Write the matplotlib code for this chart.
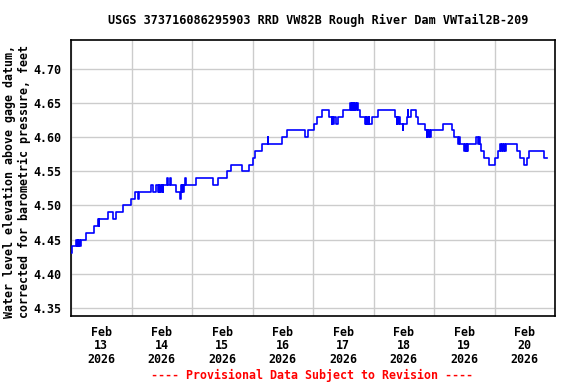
import numpy as np
import pandas as pd
import matplotlib
matplotlib.use("Agg")
import matplotlib.pyplot as plt
import matplotlib.dates as mdates
from matplotlib.ticker import MultipleLocator, FixedLocator

# gage readings, hours after 2026-02-13 00:00 and water level (ft)
hours = [0.0, 0.5, 2.0, 2.3, 2.6, 2.9, 3.2, 3.5, 3.8, 5.95, 9.0, 10.7, 11.0, 11.3,
         14.8, 16.7, 18.0, 20.6, 23.9, 25.3, 26.6, 27.0, 31.9, 32.6, 33.7, 34.5,
         34.8, 35.1, 35.4, 35.7, 36.0, 36.3, 36.5, 38.1, 38.5, 39.4, 39.8, 41.8,
         43.1, 43.5, 43.6, 43.9, 44.2, 44.5, 44.8, 45.3, 45.6, 49.5, 56.3, 58.2,
         61.9, 63.6, 68.0, 70.7, 72.1, 73.1, 75.6, 78.0, 78.3, 83.6, 85.8, 92.8,
         94.1, 96.3, 97.5, 99.5, 102.3, 103.4, 103.7, 104.0, 104.3, 105.1, 106.0,
         108.0, 110.7, 111.0, 111.3, 111.6, 112.1, 112.4, 112.7, 113.0, 113.3,
         113.7, 114.6, 116.6, 116.9, 117.2, 117.5, 117.8, 118.1, 118.4, 119.4,
         121.9, 128.5, 129.2, 129.5, 129.8, 130.1, 130.4, 131.6, 131.9, 133.2,
         133.5, 133.8, 134.9, 136.9, 137.8, 140.4, 141.1, 141.4, 141.7, 142.0,
         142.3, 142.7, 147.4, 151.0, 151.9, 153.6, 153.9, 154.2, 156.0, 156.3,
         156.6, 156.9, 157.2, 157.5, 160.5, 161.5, 161.8, 162.1, 162.6, 163.9,
         165.9, 168.2, 169.5, 170.2, 170.5, 170.8, 171.4, 171.7, 172.3, 172.6,
         177.0, 178.1, 179.8, 180.8, 181.8, 187.6, 188.7]
levels = [4.43, 4.44, 4.45, 4.44, 4.45, 4.44, 4.45, 4.44, 4.45, 4.46, 4.47, 4.48, 4.47, 4.48,
          4.49, 4.48, 4.49, 4.50, 4.51, 4.52, 4.51, 4.52, 4.53, 4.52, 4.53, 4.52,
          4.53, 4.52, 4.53, 4.52, 4.53, 4.52, 4.53, 4.54, 4.53, 4.54, 4.53, 4.52,
          4.51, 4.52, 4.53, 4.52, 4.53, 4.52, 4.53, 4.54, 4.53, 4.54, 4.53, 4.54,
          4.55, 4.56, 4.55, 4.56, 4.57, 4.58, 4.59, 4.60, 4.59, 4.60, 4.61, 4.60,
          4.61, 4.62, 4.63, 4.64, 4.63, 4.62, 4.63, 4.62, 4.63, 4.62, 4.63,
          4.64, 4.65, 4.64, 4.65, 4.64, 4.65, 4.64, 4.65, 4.64, 4.65,
          4.64, 4.63, 4.62, 4.63, 4.62, 4.63, 4.62, 4.63, 4.62, 4.63,
          4.64, 4.63, 4.62, 4.63, 4.62, 4.63, 4.62, 4.61, 4.62, 4.63,
          4.64, 4.63, 4.64, 4.63, 4.62, 4.61, 4.60, 4.61, 4.60, 4.61,
          4.60, 4.61, 4.62, 4.61, 4.60, 4.59, 4.60, 4.59, 4.58, 4.59,
          4.58, 4.59, 4.58, 4.59, 4.60, 4.59, 4.60, 4.59, 4.58, 4.57,
          4.56, 4.57, 4.58, 4.59, 4.58, 4.59, 4.58, 4.59, 4.58, 4.59,
          4.58, 4.57, 4.56, 4.57, 4.58, 4.57, 4.57]

days = pd.date_range("2026-02-13", "2026-02-20", freq="D")
day_labels = [d.strftime("Feb\n%d\n%Y") for d in days]
yticks = [4.35, 4.40, 4.45, 4.50, 4.55, 4.60, 4.65, 4.70]

title = "USGS 373716086295903 RRD VW82B Rough River Dam VWTail2B-209"
ylab = "Water level elevation above gage datum,\ncorrected for barometric pressure, feet"

font = "DejaVu Sans Mono"
start = pd.Timestamp("2026-02-13")
times = start + pd.to_timedelta(hours, unit="h")

fig = plt.figure(figsize=(5.76, 3.84), dpi=100)
ax = fig.add_axes([71 / 576, 68 / 384, 484 / 576, 276 / 384])

ax.plot(times, levels, color="#0000ff", lw=1.2, drawstyle="steps-post", zorder=3)

ax.set_xlim(start, start + pd.Timedelta(days=8))
ax.set_ylim(4.338, 4.7425)

# labels at noon, grid lines at midnight
noon = [mdates.date2num(d + pd.Timedelta(hours=12)) for d in days]
ax.xaxis.set_major_locator(FixedLocator(noon))
ax.set_xticklabels(day_labels)
ax.xaxis.set_minor_locator(mdates.DayLocator())
ax.grid(True, which="minor", axis="x", color="#cccccc", lw=1)
ax.set_yticks(yticks)
ax.set_yticklabels([f"{v:.2f}" for v in yticks])
ax.grid(True, which="major", axis="y", color="#cccccc", lw=1)
ax.set_axisbelow(True)

ax.tick_params(axis="both", which="both", length=0)
ax.tick_params(axis="x", pad=7)
ax.tick_params(axis="y", pad=7)
for lab in ax.get_xticklabels() + ax.get_yticklabels():
    lab.set_family(font)
    lab.set_weight("bold")
    lab.set_fontsize(8.4)
for lab in ax.get_xticklabels():
    lab.set_linespacing(1.05)

for s in ax.spines.values():
    s.set_color("black")
    s.set_linewidth(1.2)

fig.text(318 / 576, 1 - 20 / 384, title, ha="center", va="center",
         family=font, weight="bold", fontsize=8.5)
fig.text(17 / 576, 1 - 181 / 384, ylab, ha="center", va="center", rotation=90,
         family=font, weight="bold", fontsize=8.4, linespacing=1.1)
fig.text(312 / 576, 1 - 375 / 384, "---- Provisional Data Subject to Revision ----",
         ha="center", va="center", color="red", family=font, weight="bold", fontsize=8.4)

fig.savefig("out.png", dpi=100)
